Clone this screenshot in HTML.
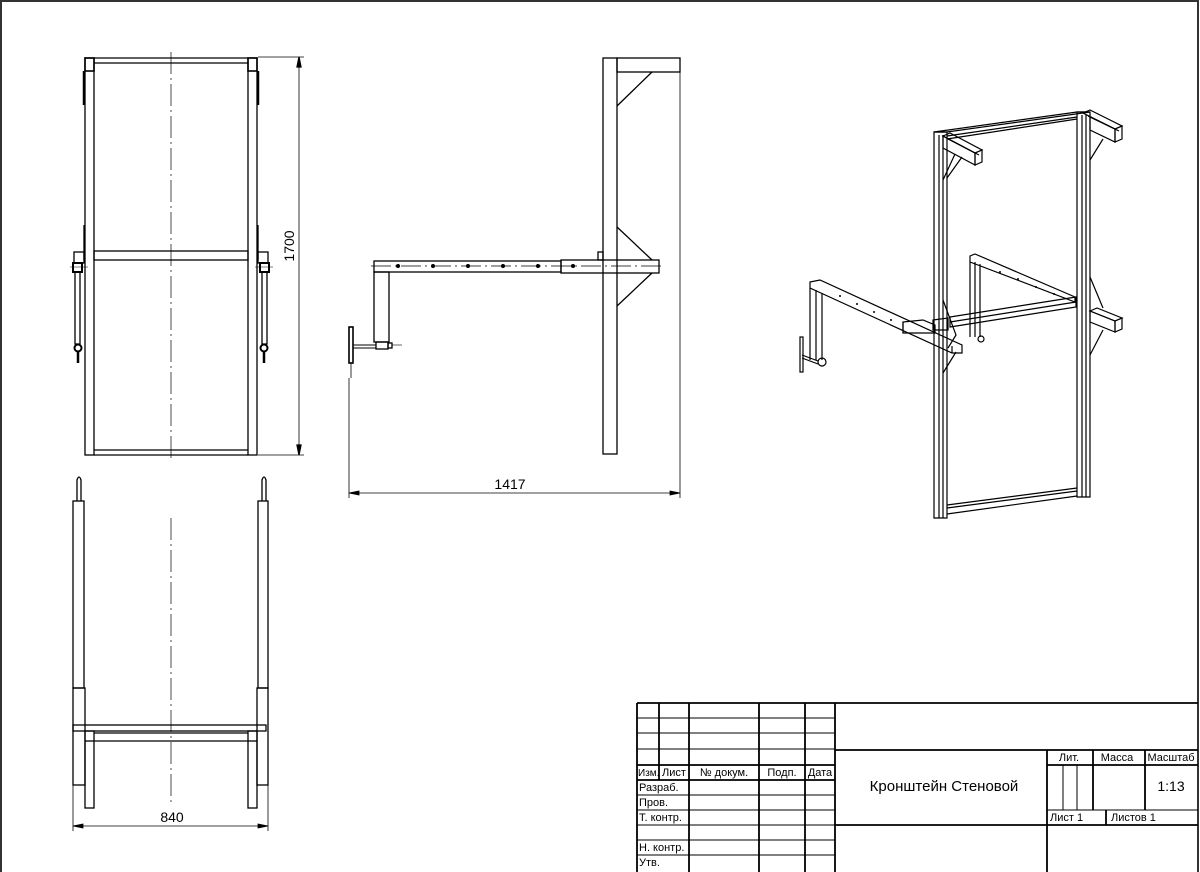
<!DOCTYPE html>
<html><head><meta charset="utf-8"><style>
html,body{margin:0;padding:0;background:#fff}
svg{display:block}
text{font-family:"Liberation Sans",sans-serif;fill:#000}
</style></head><body>
<svg width="1200" height="872" viewBox="0 0 1200 872" xmlns="http://www.w3.org/2000/svg">
<rect x="1" y="1" width="1197" height="880" fill="none" stroke="#333" stroke-width="2"/>
<g fill="none" stroke="#000" stroke-width="1.3">
<!-- FRONT VIEW -->
<rect x="85" y="58" width="9" height="397"/>
<rect x="248" y="58" width="9" height="397"/>
<line x1="94" y1="58" x2="248" y2="58"/><line x1="94" y1="63" x2="248" y2="63"/>
<line x1="94" y1="450" x2="248" y2="450"/><line x1="94" y1="455" x2="248" y2="455"/>
<rect x="94" y="251" width="154" height="9"/>
<rect x="85" y="58" width="9" height="13" stroke-width="1.6"/>
<rect x="248" y="58" width="9" height="13" stroke-width="1.6"/>
<line x1="84" y1="71" x2="84" y2="105" stroke-width="2.5"/>
<line x1="258" y1="71" x2="258" y2="105" stroke-width="2.5"/>
<line x1="84" y1="225" x2="84" y2="260"/><line x1="258" y1="225" x2="258" y2="260"/>
<rect x="74" y="252" width="10" height="11"/>
<rect x="73" y="263" width="9" height="9" stroke-width="2"/>
<rect x="75" y="272" width="5" height="72"/>
<circle cx="78" cy="348" r="3.5" stroke-width="2"/>
<line x1="78" y1="351" x2="78" y2="363" stroke-width="2.5"/>
<line x1="70" y1="267" x2="88" y2="267" stroke-width="0.6"/>
<rect x="258" y="252" width="10" height="11"/>
<rect x="260" y="263" width="9" height="9" stroke-width="2"/>
<rect x="262" y="272" width="5" height="72"/>
<circle cx="264" cy="348" r="3.5" stroke-width="2"/>
<line x1="264" y1="351" x2="264" y2="363" stroke-width="2.5"/>
<line x1="255" y1="267" x2="273" y2="267" stroke-width="0.6"/>
<line x1="171" y1="52" x2="171" y2="460" stroke-width="0.7" stroke-dasharray="22,4,2,4"/>
<line x1="258" y1="57" x2="304" y2="57" stroke-width="0.7"/>
<line x1="258" y1="455" x2="304" y2="455" stroke-width="0.7"/>
<line x1="299" y1="57" x2="299" y2="455" stroke-width="0.8"/>
<path d="M299 57 l-2 10 h4z M299 455 l-2 -10 h4z" fill="#000"/>

<!-- SIDE VIEW -->
<rect x="603" y="58" width="14" height="396"/>
<rect x="617" y="58" width="63" height="14"/>
<line x1="652" y1="72" x2="617" y2="106"/>
<rect x="374" y="261" width="187" height="11"/>
<rect x="561" y="260" width="98" height="13"/>
<line x1="617" y1="227" x2="652" y2="260"/>
<line x1="652" y1="273" x2="617" y2="306"/>
<rect x="598" y="252" width="5" height="8"/>
<rect x="374" y="272" width="15" height="70"/>
<rect x="376" y="342" width="12" height="7"/>
<line x1="353" y1="345" x2="376" y2="345" stroke-width="1"/><line x1="353" y1="348" x2="376" y2="348" stroke-width="1"/>
<rect x="388" y="343" width="4" height="5"/>
<line x1="392" y1="345" x2="402" y2="345" stroke-width="0.6"/>
<rect x="349" y="327" width="4" height="36" stroke-width="1.6"/>
<line x1="351" y1="363" x2="351" y2="378" stroke-width="0.8"/>
<line x1="371" y1="266" x2="662" y2="266" stroke-width="0.7" stroke-dasharray="20,4,2,4"/>
</g>
<g fill="#000">
<circle cx="398" cy="266" r="2"/><circle cx="433" cy="266" r="2"/><circle cx="468" cy="266" r="2"/>
<circle cx="503" cy="266" r="2"/><circle cx="538" cy="266" r="2"/><circle cx="573" cy="266" r="2"/>
</g>
<g fill="none" stroke="#000" stroke-width="0.8">
<line x1="349" y1="378" x2="349" y2="498"/>
<line x1="680" y1="72" x2="680" y2="498"/>
<line x1="349" y1="493" x2="680" y2="493"/>
<path d="M349 493 l10 -2 v4z M680 493 l-10 -2 v4z" fill="#000"/>

<!-- BOTTOM VIEW -->
<g stroke-width="1.3">
<rect x="73" y="501" width="11" height="187"/>
<rect x="73" y="688" width="12" height="97"/>
<rect x="258" y="501" width="10" height="187"/>
<rect x="257" y="688" width="11" height="97"/>
<rect x="73" y="725" width="193" height="6"/>
<rect x="85" y="731" width="9" height="77"/>
<rect x="248" y="731" width="9" height="77"/>
<line x1="94" y1="733" x2="248" y2="733"/><line x1="94" y1="741" x2="248" y2="741"/>
<line x1="85" y1="741" x2="94" y2="741"/><line x1="248" y1="741" x2="257" y2="741"/>
<path d="M77 501 V480 Q79 474 81 480 V501"/>
<path d="M262 501 V480 Q264 474 266 480 V501"/>
</g>
<line x1="171" y1="518" x2="171" y2="805" stroke-width="0.7" stroke-dasharray="22,4,2,4"/>
<line x1="73" y1="785" x2="73" y2="831"/>
<line x1="268" y1="785" x2="268" y2="831"/>
<line x1="73" y1="826" x2="268" y2="826"/>
<path d="M73 826 l10 -2 v4z M268 826 l-10 -2 v4z" fill="#000"/>
</g>
<text x="299" y="246" font-size="14" transform="rotate(-90 299 246)" text-anchor="middle" dy="-5">1700</text>
<text x="510" y="489" font-size="14" text-anchor="middle">1417</text>
<text x="172" y="822" font-size="14" text-anchor="middle">840</text>

<!-- ISOMETRIC -->
<g fill="none" stroke="#000" stroke-width="1.2">
<polygon points="934,132 947,132 947,518 934,518"/>
<line x1="939" y1="135" x2="939" y2="518"/><line x1="943" y1="135" x2="943" y2="518"/>
<polygon points="1077,112 1090,112 1090,497 1077,497"/>
<line x1="1082" y1="115" x2="1082" y2="497"/><line x1="1086" y1="115" x2="1086" y2="497"/>
<polygon points="934,132 1077,112 1090,112 947,132"/>
<line x1="947" y1="136" x2="1077" y2="117"/><line x1="947" y1="139" x2="1077" y2="119"/>
<line x1="947" y1="505" x2="1077" y2="488"/><line x1="947" y1="508" x2="1077" y2="491"/>
<line x1="947" y1="514" x2="1077" y2="496"/>
<!-- top-left arm (square tube) -->
<polygon points="943,136 950,133 982,150 975,153"/>
<polygon points="943,136 975,153 975,165 943,148"/>
<polygon points="975,153 982,150 982,162 975,165"/>
<line x1="948" y1="139" x2="979" y2="155"/>
<polyline points="955,154 943,180"/><polyline points="962,157 947,178"/>
<!-- top-right arm -->
<polygon points="1083,113 1090,110 1122,126 1115,129"/>
<polygon points="1090,117 1115,129 1115,142 1090,130"/>
<polygon points="1115,129 1122,126 1122,139 1115,142"/>
<line x1="1088" y1="116" x2="1119" y2="131"/>
<polyline points="1103,139 1090,160"/>
<!-- back arm -->
<polygon points="970,256 975,254 1075,297 1075,302 970,262"/>
<line x1="975" y1="262" x2="975" y2="337"/><line x1="970" y1="262" x2="970" y2="337"/><line x1="980" y1="264" x2="980" y2="337"/>
<circle cx="981" cy="339" r="3"/>
<!-- crossbar -->
<polygon points="950,317 1076,297 1076,307 950,327"/>
<line x1="950" y1="322" x2="1076" y2="302"/>
<!-- right mid arm -->
<polygon points="1090,311 1097,308 1122,318 1115,321"/>
<polygon points="1090,311 1115,321 1115,332 1090,322"/>
<polygon points="1115,321 1122,318 1122,329 1115,332"/>
<polyline points="1090,277 1103,308"/><polyline points="1103,330 1090,355"/>
<!-- left arm -->
<polygon points="810,282 820,280 962,345 962,353 952,353 810,288"/>
<line x1="952" y1="346" x2="952" y2="353"/>
<line x1="903" y1="322" x2="903" y2="333"/>
<polygon points="903,322 923,320 935,325 935,333 903,333"/>
<polygon points="933,320 948,318 948,330 933,330"/>
<polyline points="943,300 956,335 948,348"/>
<polyline points="956,352 943,373"/>
<line x1="810" y1="288" x2="810" y2="360"/><line x1="816" y1="290" x2="816" y2="360"/><line x1="822" y1="293" x2="822" y2="360"/>
<circle cx="822" cy="362" r="4"/>
<line x1="802" y1="355" x2="818" y2="361"/><line x1="802" y1="358" x2="818" y2="364"/>
<rect x="800" y="337" width="3" height="35"/>
</g>
<g fill="#000">
<circle cx="840" cy="296" r="1"/><circle cx="857" cy="304" r="1"/><circle cx="874" cy="312" r="1"/><circle cx="891" cy="320" r="1"/>
<circle cx="1000" cy="272" r="1"/><circle cx="1018" cy="279" r="1"/><circle cx="1036" cy="287" r="1"/><circle cx="1054" cy="294" r="1"/>
</g>

<!-- TITLE BLOCK -->
<g fill="none" stroke="#000" stroke-width="1">
<g stroke-width="1.8">
<line x1="637" y1="703" x2="1198" y2="703"/>
<line x1="637" y1="703" x2="637" y2="872"/>
<line x1="659" y1="703" x2="659" y2="780"/>
<line x1="689" y1="703" x2="689" y2="872"/>
<line x1="759" y1="703" x2="759" y2="872"/>
<line x1="805" y1="703" x2="805" y2="872"/>
<line x1="835" y1="703" x2="835" y2="872"/>
<line x1="637" y1="765" x2="835" y2="765"/>
<line x1="637" y1="780" x2="835" y2="780"/>
<line x1="835" y1="750" x2="1198" y2="750"/>
<line x1="835" y1="825" x2="1198" y2="825"/>
<line x1="1047" y1="750" x2="1047" y2="872"/>
<line x1="1047" y1="765" x2="1198" y2="765"/>
<line x1="1093" y1="750" x2="1093" y2="810"/>
<line x1="1145" y1="750" x2="1145" y2="810"/>
<line x1="1106" y1="810" x2="1106" y2="825"/>
</g>
<line x1="637" y1="718" x2="835" y2="718"/>
<line x1="637" y1="733" x2="835" y2="733"/>
<line x1="637" y1="749" x2="835" y2="749"/>
<line x1="637" y1="795" x2="835" y2="795"/>
<line x1="637" y1="810" x2="835" y2="810"/>
<line x1="637" y1="825" x2="835" y2="825"/>
<line x1="637" y1="840" x2="835" y2="840"/>
<line x1="637" y1="855" x2="835" y2="855"/>
<line x1="1063" y1="765" x2="1063" y2="810"/>
<line x1="1077" y1="765" x2="1077" y2="810"/>
<line x1="1047" y1="810" x2="1198" y2="810"/>
</g>
<g font-size="11">
<text x="638" y="776" font-size="10">Изм.</text><text x="662" y="776">Лист</text>
<text x="724" y="776" text-anchor="middle">№ докум.</text>
<text x="782" y="776" text-anchor="middle">Подп.</text>
<text x="820" y="776" text-anchor="middle">Дата</text>
<text x="639" y="791">Разраб.</text>
<text x="639" y="806">Пров.</text>
<text x="639" y="821">Т. контр.</text>
<text x="639" y="851">Н. контр.</text>
<text x="639" y="866">Утв.</text>
<text x="1069" y="761" text-anchor="middle">Лит.</text>
<text x="1117" y="761" text-anchor="middle">Масса</text>
<text x="1171" y="761" text-anchor="middle">Масштаб</text>
<text x="1050" y="821">Лист 1</text>
<text x="1111" y="821">Листов 1</text>
</g>
<text x="1171" y="791" font-size="14" text-anchor="middle">1:13</text>
<text x="944" y="791" font-size="15" text-anchor="middle">Кронштейн Стеновой</text>
</svg>
</body></html>
